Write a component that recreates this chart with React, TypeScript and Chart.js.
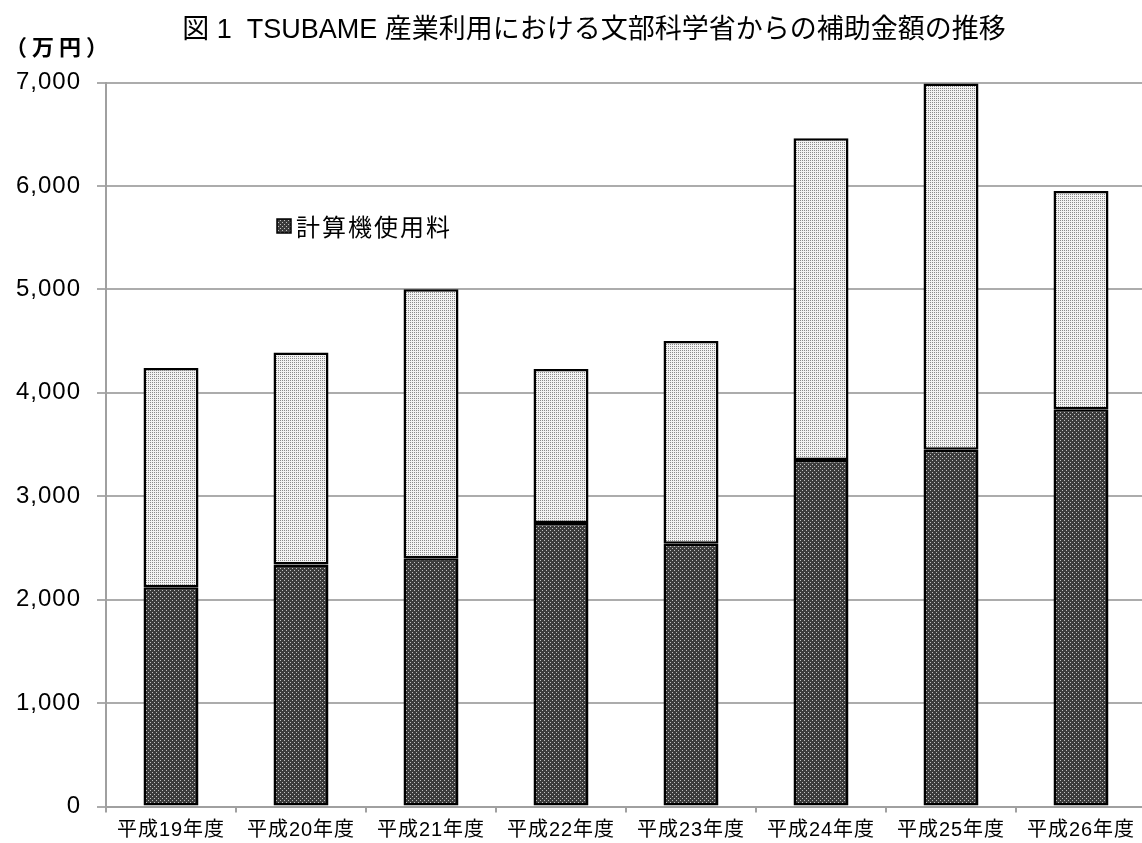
import React, { useEffect, useRef } from "react";
import { Chart, registerables } from "chart.js";

Chart.register(...registerables);

const categories = [
  "平成19年度",
  "平成20年度",
  "平成21年度",
  "平成22年度",
  "平成23年度",
  "平成24年度",
  "平成25年度",
  "平成26年度",
];
// 計算機使用料 (bottom, dark)
const computeFee = [2120, 2340, 2400, 2740, 2540, 3350, 3450, 3840];
// remaining part of the subsidy (top, light)
const otherFee = [2120, 2050, 2600, 1490, 1960, 3110, 3540, 2110];

const titleText = "図 1  TSUBAME 産業利用における文部科学省からの補助金額の推移";
const unitText = "（万円）";
const legendLabel = "計算機使用料";
const otherLabel = "その他";
const yMax = 7000;
const yStep = 1000;

const FONT = "'Liberation Sans', 'Noto Sans CJK JP', sans-serif";
const JFONT = "'Noto Sans CJK JP', sans-serif";

function makePattern(
  size: number,
  bg: string,
  dot: string,
  dots: [number, number][]
): CanvasPattern | string {
  const c = document.createElement("canvas");
  c.width = size;
  c.height = size;
  const g = c.getContext("2d");
  if (!g) return bg;
  g.fillStyle = bg;
  g.fillRect(0, 0, size, size);
  g.fillStyle = dot;
  dots.forEach(([x, y]) => g.fillRect(x, y, 1, 1));
  const p = g.createPattern(c, "repeat");
  return p || bg;
}

export default function App() {
  const ref = useRef<HTMLCanvasElement | null>(null);

  useEffect(() => {
    if (!ref.current) return;
    const dark = makePattern(4, "#3c3c3c", "#c0c0c0", [
      [0, 0],
      [2, 2],
    ]);
    const light = makePattern(2, "#f2f2f2", "#8a8a8a", [[0, 0]]);

    const textPlugin = {
      id: "textPlugin",
      beforeDraw(chart: any) {
        try {
          (chart.ctx as any).letterSpacing = "1px";
        } catch (e) {}
      },
      afterDraw(chart: any) {
        const ctx = chart.ctx as CanvasRenderingContext2D;
        ctx.save();
        try {
          (ctx as any).letterSpacing = "0px";
        } catch (e) {}
        ctx.fillStyle = "#000";
        ctx.textBaseline = "middle";
        // title
        ctx.font = `27px ${FONT}`;
        ctx.textAlign = "center";
        ctx.fillText(titleText, 594, 31);
        // unit
        ctx.font = `bold 22px ${JFONT}`;
        ctx.textAlign = "left";
        try {
          (ctx as any).letterSpacing = "5px";
        } catch (e) {}
        ctx.fillText(unitText, 5, 47);
        // legend
        try {
          (ctx as any).letterSpacing = "2px";
        } catch (e) {}
        ctx.fillStyle = dark as any;
        ctx.fillRect(277, 219, 14, 14);
        ctx.strokeStyle = "#000";
        ctx.lineWidth = 1.5;
        ctx.strokeRect(277, 219, 14, 14);
        ctx.fillStyle = "#000";
        ctx.font = `24px ${JFONT}`;
        ctx.fillText(legendLabel, 296, 227);
        ctx.restore();
        try {
          (ctx as any).letterSpacing = "0px";
        } catch (e) {}
      },
    };

    const chart = new Chart(ref.current, {
      type: "bar",
      data: {
        labels: categories,
        datasets: [
          {
            label: legendLabel,
            data: computeFee,
            backgroundColor: dark as any,
            borderColor: "#000",
            borderWidth: 2.5,
            borderSkipped: false,
            stack: "s",
          },
          {
            label: otherLabel,
            data: otherFee,
            backgroundColor: light as any,
            borderColor: "#000",
            borderWidth: 2.5,
            borderSkipped: false,
            stack: "s",
          },
        ],
      },
      options: {
        animation: false,
        responsive: false,
        devicePixelRatio: 1,
        layout: { padding: { top: 82.5, right: 4, bottom: 0, left: 0 } },
        datasets: {
          bar: { categoryPercentage: 1, barPercentage: 0.423 },
        },
        plugins: {
          legend: { display: false },
          title: { display: false },
          tooltip: { enabled: false },
        },
        scales: {
          x: {
            stacked: true,
            grid: {
              display: true,
              drawOnChartArea: false,
              drawTicks: true,
              tickLength: 6,
              color: "#a0a0a0",
              lineWidth: 2,
              offset: true,
            },
            border: { display: true, color: "#a0a0a0", width: 2 },
            ticks: {
              color: "#000",
              font: { family: FONT, size: 20 },
              padding: 6,
              maxRotation: 0,
              autoSkip: false,
            },
            afterFit: (s: any) => {
              s.height = 36.5;
            },
          },
          y: {
            stacked: true,
            min: 0,
            max: yMax,
            ticks: {
              stepSize: yStep,
              color: "#000",
              font: { family: FONT, size: 24 },
              padding: 16,
              callback: (v: any) => Number(v).toLocaleString("en-US"),
            },
            grid: {
              color: "#acacac",
              lineWidth: 2,
              drawTicks: true,
              tickLength: 9,
            },
            border: { display: true, color: "#a0a0a0", width: 2 },
            afterFit: (s: any) => {
              s.width = 106;
            },
          },
        },
      },
      plugins: [textPlugin],
    });
    return () => chart.destroy();
  }, []);

  return (
    <div
      style={{
        position: "fixed",
        left: 0,
        top: 0,
        width: 1142,
        height: 843,
        overflow: "hidden",
        background: "#fff",
      }}
    >
      <canvas ref={ref} width={1150} height={843} style={{ display: "block" }} />
    </div>
  );
}
